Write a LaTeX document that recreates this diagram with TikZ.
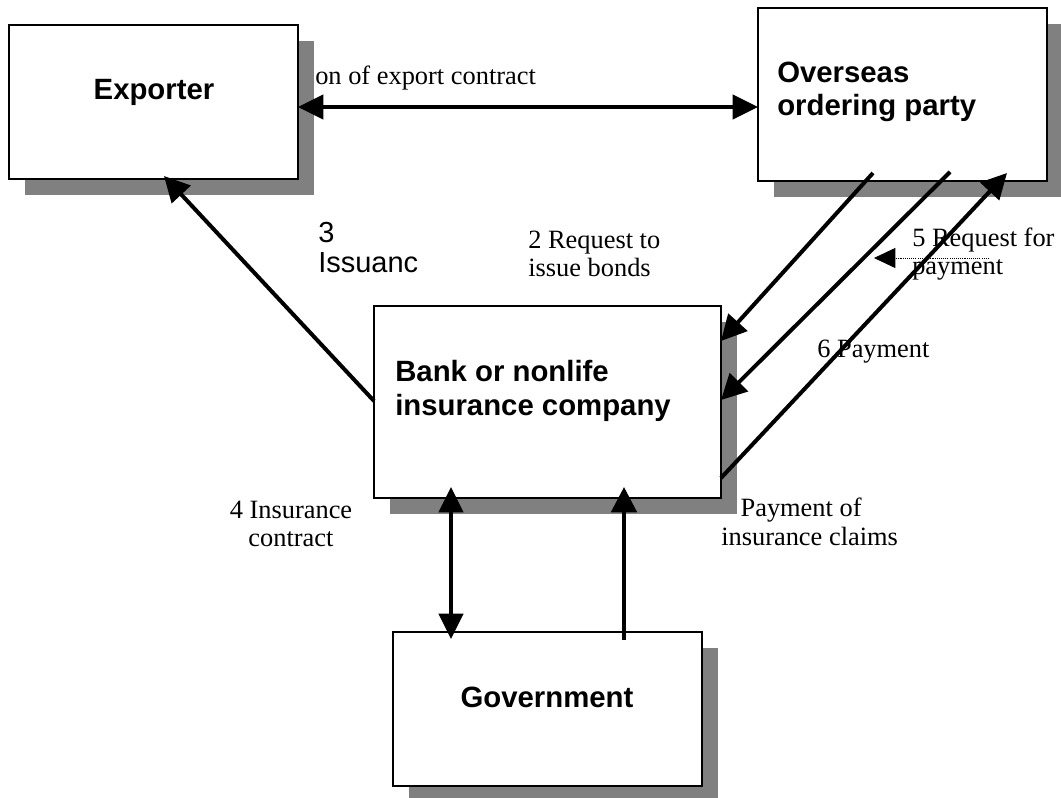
\documentclass[tikz,border=0pt]{standalone}
\usepackage{fontspec}
\setmainfont{Liberation Serif}
\setsansfont{Liberation Sans}
\usetikzlibrary{arrows.meta,shadows}
\begin{document}
\begin{tikzpicture}[x=0.75pt,y=-0.75pt,
  box/.style={draw=black,line width=1pt,fill=white,inner sep=0pt,outer sep=0pt,
     drop shadow={shadow xshift=12pt,shadow yshift=-12pt,fill=black!50,opacity=1}},
  boxtext/.style={font=\sffamily\bfseries\fontsize{22pt}{25pt}\selectfont,inner sep=0pt,align=left},
  lbl/.style={font=\fontsize{19.8pt}{21.5pt}\selectfont,inner sep=0pt},
  lblsans/.style={font=\sffamily\fontsize{21.75pt}{22.5pt}\selectfont,inner sep=0pt,align=left},
  arr/.style={line width=3pt,-{Triangle[length=19pt,width=19pt]}},
  dbl/.style={line width=3pt,{Triangle[length=19pt,width=18pt]}-{Triangle[length=19pt,width=18pt]}},
  ptr/.style={line width=0.6pt,dash pattern=on 0.8pt off 0.8pt,-{Triangle[length=16pt,width=15pt]}}
]
\useasboundingbox (0,0) rectangle (1061,798);

% boxes
\node[box,minimum width=216.75pt,minimum height=115.5pt] (exp) at (153.5,102) {};
\node[box,minimum width=216.75pt,minimum height=129.75pt] (ovs) at (902.5,94.5) {};
\node[box,minimum width=260.25pt,minimum height=144pt] (bank) at (547.5,402) {};
\node[box,minimum width=231.75pt,minimum height=115.5pt] (gov) at (547.5,709) {};

% box texts
\node[boxtext] (texp) at (154,92) {Exporter};
\node[boxtext,anchor=west] (tovs) at (777,92) {Overseas\\ordering party};
\node[boxtext,anchor=west] (tbank) at (395,391) {Bank or nonlife\\insurance company};
\node[boxtext] (tgov) at (547,697) {Government};

% labels
\node[lbl,anchor=west] (l1) at (315,78) {on of export contract};
\node[lbl,anchor=west,align=left] (l2) at (528,254) {2 Request to\\issue bonds};
\node[lblsans,anchor=west] (l3) at (318,248) {3\\Issuanc};
\node[lbl,anchor=center,align=center] (l4) at (291,524) {4 Insurance\\contract};
\node[lbl,anchor=west,align=left] (l5) at (912,254) {5 Request for\\payment};
\node[lbl,anchor=west] (l6) at (817,352) {6 Payment};
\node[lbl,anchor=west,align=left] (l7) at (721,522) {\hspace*{14.5pt}Payment of\\insurance claims};

% connector end points
\coordinate (e1) at (298,107); \coordinate (o1) at (758,107);
\coordinate (b0) at (374,401); \coordinate (e0) at (164,176);
\coordinate (o2) at (873,173); \coordinate (b2) at (721,341);
\coordinate (o3) at (950,172); \coordinate (b3) at (721,400);
\coordinate (b4) at (721,478); \coordinate (o4) at (1007,173);
\coordinate (b5) at (451,487); \coordinate (g5) at (451,639);
\coordinate (b6) at (624,487); \coordinate (g6) at (624,640);
\coordinate (p1) at (989,258); \coordinate (p0) at (874,258);

% connectors
\draw[dbl] (e1) -- (o1);
\draw[arr] (b0) -- (e0);
\draw[arr] (o2) -- (b2);
\draw[arr] (o3) -- (b3);
\draw[arr] (b4) -- (o4);
\draw[dbl] (b5) -- (g5);
\draw[arr] (g6) -- (b6);
\draw[ptr] (p1) -- (p0);
\end{tikzpicture}
\end{document}
